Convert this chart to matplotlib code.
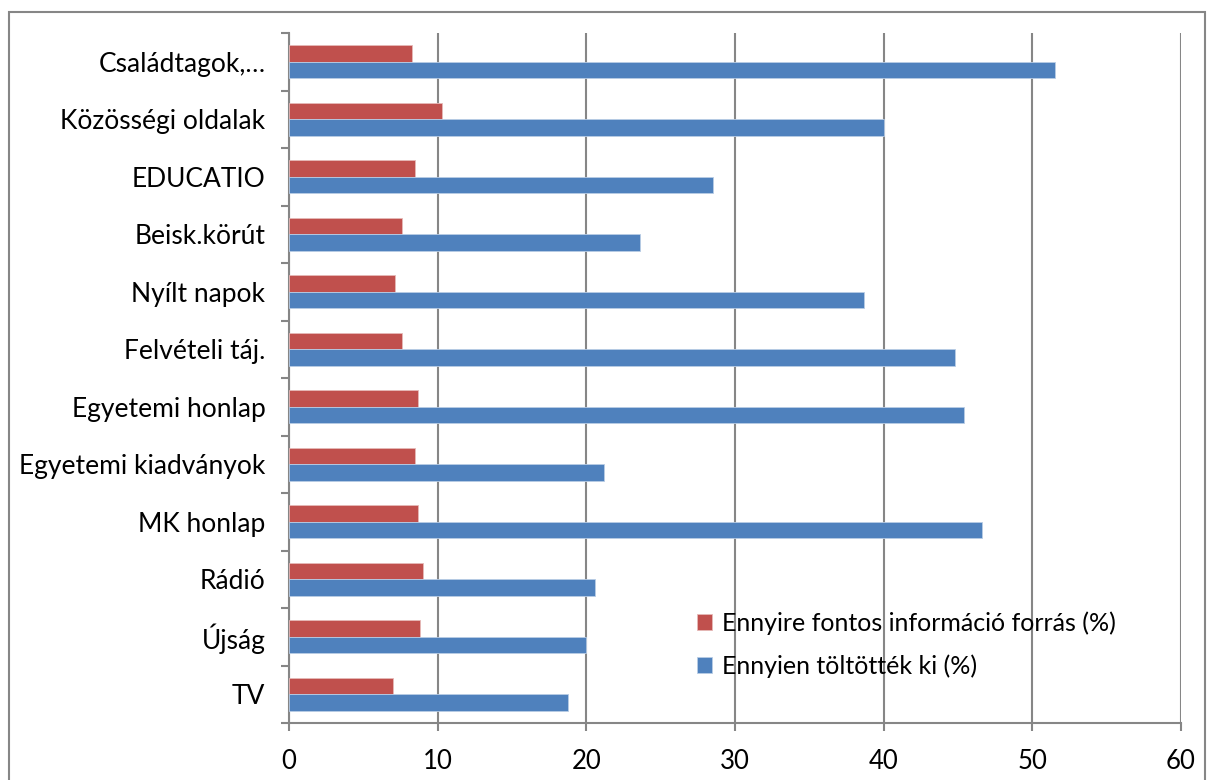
import numpy as np
import matplotlib
matplotlib.use("Agg")
import matplotlib.pyplot as plt
from matplotlib.patches import Rectangle
from matplotlib.ticker import FixedLocator, NullFormatter

plt.rcParams['font.family'] = ['Lato', 'DejaVu Sans']

# categories from bottom to top
categories = ["TV", "Újság", "Rádió", "MK honlap", "Egyetemi kiadványok",
              "Egyetemi honlap", "Felvételi táj.", "Nyílt napok", "Beisk.körút",
              "EDUCATIO", "Közösségi oldalak", "Családtagok,…"]
fontos = [7.0, 8.8, 9.0, 8.7, 8.5, 8.7, 7.6, 7.1, 7.6, 8.5, 10.3, 8.3]
kitoltottek = [18.8, 20.0, 20.6, 46.6, 21.2, 45.4, 44.8, 38.7, 23.6, 28.5, 40.0, 51.5]
series_names = ["Ennyire fontos információ forrás (%)", "Ennyien töltötték ki (%)"]
xticks = [0, 10, 20, 30, 40, 50, 60]

red = "#C0504D"
blue = "#4F81BD"
gray = "#868686"

fig = plt.figure(figsize=(12.09, 7.80), dpi=100)
# outer chart border
fig.patches.append(Rectangle((9 / 1209, -0.05), 1196 / 1209, 1.05 - 12 / 780,
                             transform=fig.transFigure, fill=False,
                             edgecolor=gray, linewidth=1.5))

ax = fig.add_axes([289 / 1209, 57 / 780, 892 / 1209, 690 / 780])

y = np.arange(len(categories))
h = 0.287
ax.barh(y + h / 2, fontos, height=h, color=red, edgecolor="#E6B9B8",
        linewidth=0.6, label=series_names[0], zorder=3)
ax.barh(y - h / 2, kitoltottek, height=h, color=blue, edgecolor="#B9CDE5",
        linewidth=0.6, label=series_names[1], zorder=3)

ax.set_xlim(0, 60)
ax.set_ylim(-0.5, len(categories) - 0.5)
ax.set_xticks(xticks)
ax.set_xticklabels([str(t) for t in xticks], fontsize=18.5)
ax.set_yticks(y)
ax.set_yticklabels(categories, fontsize=19)
ax.yaxis.set_minor_locator(FixedLocator(np.arange(-0.5, len(categories), 1)))
ax.yaxis.set_minor_formatter(NullFormatter())
ax.tick_params(axis="y", which="major", length=0, pad=17)
ax.tick_params(axis="y", which="minor", length=6, width=1.5, color=gray, direction="out")
ax.tick_params(axis="x", which="major", length=6, width=1.5, color=gray,
               direction="out", pad=13)

ax.grid(axis="x", color=gray, linewidth=1.5, zorder=0)
ax.set_axisbelow(True)
for s in ["top", "right"]:
    ax.spines[s].set_visible(False)
for s in ["left", "bottom"]:
    ax.spines[s].set_color(gray)
    ax.spines[s].set_linewidth(1.5)

leg = ax.legend(loc="upper left", bbox_to_anchor=(0.432, 0.194), frameon=False,
                fontsize=18, handlelength=0.6, handleheight=0.6,
                handletextpad=0.4, labelspacing=0.75)

fig.savefig("out.png", dpi=100)
